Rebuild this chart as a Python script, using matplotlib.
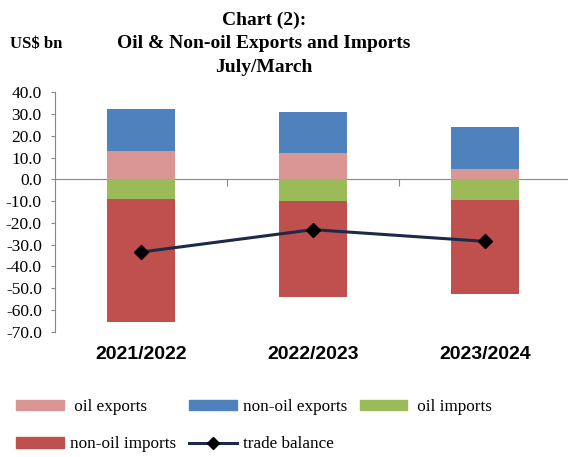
import matplotlib
matplotlib.use("Agg")
import matplotlib.pyplot as plt
import matplotlib.transforms as mtransforms
from matplotlib.patches import Patch
from matplotlib.lines import Line2D
import numpy as np

categories = ["2021/2022", "2022/2023", "2023/2024"]
oil_exports = [13.0, 11.9, 4.7]
non_oil_exports = [19.3, 19.2, 19.5]
oil_imports = [-8.9, -10.0, -9.5]
non_oil_imports = [-56.8, -44.2, -43.2]
trade_balance = [-33.4, -23.1, -28.5]
yticks = [40, 30, 20, 10, 0, -10, -20, -30, -40, -50, -60, -70]

plt.rcParams['font.family'] = ['Liberation Serif', 'DejaVu Serif']

W, H = 568, 457
fig = plt.figure(figsize=(W / 100, H / 100), dpi=100)
left, right, top, bottom = 55.0, 571.0, 92.3, 331.7
ax = fig.add_axes([left / W, 1 - bottom / H, (right - left) / W, (bottom - top) / H])

x = np.arange(len(categories))
bw = 0.4
c_oilx, c_nonx, c_oilm, c_nonm = "#D99694", "#4F81BD", "#9BBB59", "#C0504D"

ax.bar(x, oil_exports, bw, color=c_oilx, zorder=2)
ax.bar(x, non_oil_exports, bw, bottom=oil_exports, color=c_nonx, zorder=2)
ax.bar(x, oil_imports, bw, color=c_oilm, zorder=2)
ax.bar(x, non_oil_imports, bw, bottom=oil_imports, color=c_nonm, zorder=2)
ax.plot(x, trade_balance, color="#1B2A47", lw=2.2, marker="D", markersize=7,
        markerfacecolor="black", markeredgecolor="black", zorder=3)

ax.set_xlim(-0.5, 2.5)
ax.set_ylim(-70, 40)
ax.set_yticks(yticks)
ax.set_yticklabels([f"{v:.1f}" for v in yticks], fontsize=12.5)

for s in ["top", "right"]:
    ax.spines[s].set_visible(False)
ax.spines["left"].set_color("#888888")
ax.spines["bottom"].set_color("#888888")
ax.spines["bottom"].set_position(("data", 0))
ax.spines["bottom"].set_zorder(1)
ax.tick_params(axis="y", direction="out", length=3, color="#888888", pad=6.5)
ax.set_xticks([0.5, 1.5])
ax.set_xticklabels([])
ax.tick_params(axis="x", direction="out", length=5, color="#888888")

trans = mtransforms.blended_transform_factory(ax.transData, ax.transAxes)
for xi, c in zip(x, categories):
    ax.text(xi, -0.094, c, transform=trans, ha="center", va="center",
            fontsize=14, fontweight="bold", family=["Liberation Sans", "DejaVu Sans"])

fig.text(264 / W, 1 - 20 / H, "Chart (2):", ha="center", va="center", fontsize=14, fontweight="bold")
fig.text(264 / W, 1 - 44 / H, "Oil & Non-oil Exports and Imports", ha="center", va="center", fontsize=14, fontweight="bold")
fig.text(264 / W, 1 - 68 / H, "July/March", ha="center", va="center", fontsize=14, fontweight="bold")
fig.text(10 / W, 1 - 44 / H, "US$ bn", ha="left", va="center", fontsize=12, fontweight="bold")

handles = [
    Patch(color=c_oilx, label=" oil exports"),
    Patch(color=c_nonm, label="non-oil imports"),
    Patch(color=c_nonx, label="non-oil exports"),
    Line2D([], [], color="#1B2A47", lw=2.2, marker="D", markersize=6,
           markerfacecolor="black", markeredgecolor="black", label="trade balance"),
    Patch(color=c_oilm, label=" oil imports"),
]
leg = fig.legend(handles=handles, ncol=3, loc="upper left",
                 bbox_to_anchor=(16 / W, 1 - 399 / H), frameon=False,
                 fontsize=12.3, handlelength=2.8, handleheight=0.6,
                 handletextpad=0.35, columnspacing=0.75, labelspacing=1.25,
                 borderaxespad=0, borderpad=0)

fig.savefig("out.png", dpi=100)
